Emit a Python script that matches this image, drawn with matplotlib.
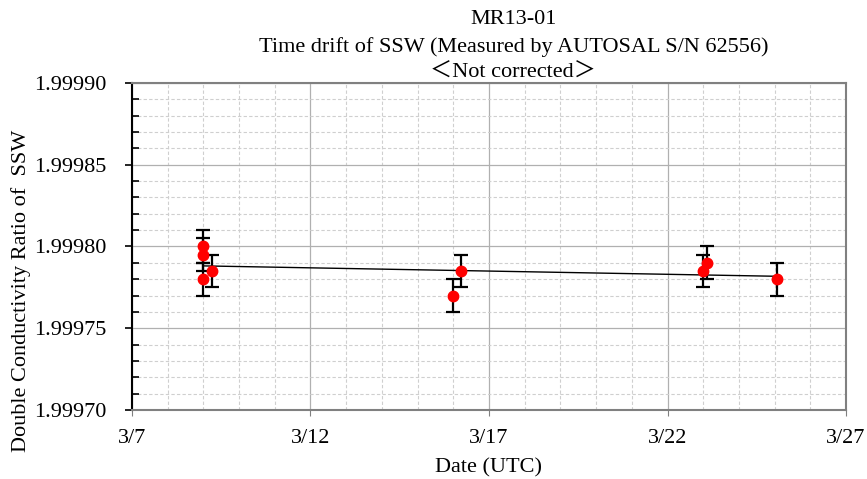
"""
Time drift of SSW, MR13-01 (AUTOSAL S/N 62556), not corrected.
"""

import matplotlib
matplotlib.use("Agg")
import matplotlib.pyplot as plt
import matplotlib.dates as mdates
from matplotlib.ticker import MultipleLocator, FormatStrFormatter
import numpy as np
import pandas as pd

plt.rcParams["font.family"] = ["Liberation Serif", "Noto Sans CJK JP", "DejaVu Sans"]

# measurement times (UTC) and double conductivity ratios
times = ["2013-03-09 00:00", "2013-03-09 00:00", "2013-03-09 00:00", "2013-03-09 05:30",
         "2013-03-16 00:00", "2013-03-16 05:30", "2013-03-23 00:00", "2013-03-23 02:30",
         "2013-03-25 01:30"]
ratios = [1.99980, 1.999795, 1.99978, 1.999785, 1.99977, 1.999785, 1.999785, 1.99979, 1.99978]
err = [0.00001] * len(ratios)

x_start, x_end = "2013-03-07", "2013-03-27"
y_min, y_max = 1.99970, 1.99990

FS = 16

dates = pd.to_datetime(times)
xnum = mdates.date2num(dates)

fig = plt.figure(figsize=(8.67, 4.79), dpi=100)
ax = fig.add_axes([0.1522, 0.1441, 0.8236, 0.6826])

# minor / major grid
ax.xaxis.set_major_locator(mdates.DayLocator(bymonthday=[7, 12, 17, 22, 27]))
ax.xaxis.set_minor_locator(mdates.DayLocator())
ax.xaxis.set_major_formatter(mdates.DateFormatter("%-m/%-d"))
ax.yaxis.set_major_locator(MultipleLocator(0.00005))
ax.yaxis.set_minor_locator(MultipleLocator(0.00001))
ax.yaxis.set_major_formatter(FormatStrFormatter("%.5f"))
ax.grid(which="major", color="#b0b0b0", lw=0.9, ls="-")
ax.grid(which="minor", color="#cfcfcf", lw=0.8, ls=(0, (3, 2)))
ax.set_axisbelow(True)

# linear trend
coef = np.polyfit(xnum - xnum.min(), ratios, 1)
xl = np.array([xnum.min(), xnum.max()])
ax.plot(xl, np.polyval(coef, xl - xnum.min()), color="black", lw=1.0, zorder=2)

ax.errorbar(xnum, ratios, yerr=err, fmt="none", ecolor="black", elinewidth=1.6,
            capsize=5, capthick=1.6, zorder=3)
ax.plot(xnum, ratios, "o", color="red", ms=7.5, zorder=4)

ax.set_xlim(mdates.date2num(pd.Timestamp(x_start)), mdates.date2num(pd.Timestamp(x_end)))
ax.set_ylim(y_min, y_max)

for side in ["top", "right", "bottom"]:
    ax.spines[side].set_color("#808080")
    ax.spines[side].set_linewidth(1.5)
ax.spines["left"].set_color("black")
ax.spines["left"].set_linewidth(1.5)

ax.tick_params(axis="y", which="major", direction="out", length=5, width=1.2, labelsize=FS, pad=13)
ax.tick_params(axis="y", which="minor", direction="in", length=5, width=1.2)
ax.tick_params(axis="x", which="major", direction="out", length=4, color="#808080", labelsize=FS, pad=10)
ax.tick_params(axis="x", which="minor", length=0)

ax.set_xlabel("Date (UTC)", fontsize=FS, labelpad=7)
fig.text(21 / 867, 1 - 291 / 479, "Double Conductivity Ratio of  SSW", rotation=90,
         ha="center", va="center", fontsize=FS)

fig.text(0.592, 1 - 19 / 479, "MR13-01", ha="center", va="center", fontsize=FS)
fig.text(0.592, 1 - 47 / 479, "Time drift of SSW (Measured by AUTOSAL S/N 62556)", ha="center", va="center", fontsize=FS)
fig.text(0.592, 1 - 73 / 479, "＜Not corrected＞", ha="center", va="center", fontsize=FS)

fig.savefig("out.png", dpi=100)
